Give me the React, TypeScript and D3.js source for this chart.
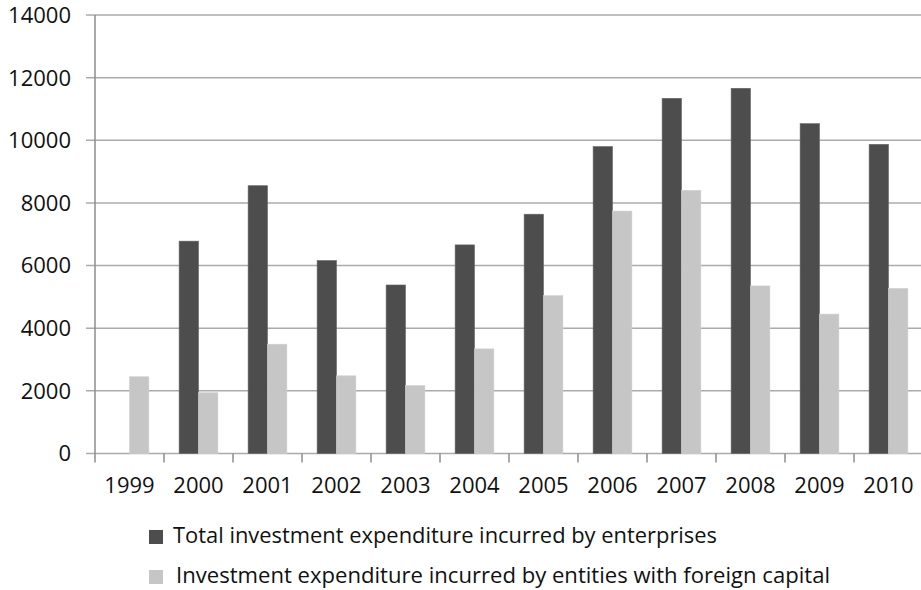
import React from "react";
import * as d3 from "d3";

const years = ["1999", "2000", "2001", "2002", "2003", "2004", "2005", "2006", "2007", "2008", "2009", "2010"];
const totalInvestment = [null, 6780, 8550, 6160, 5380, 6660, 7640, 9800, 11340, 11660, 10530, 9870];
const foreignInvestment = [2450, 1940, 3490, 2480, 2170, 3340, 5040, 7740, 8400, 5350, 4450, 5270];
const seriesNames = [
  "Total investment expenditure incurred by enterprises",
  "Investment expenditure incurred by entities with foreign capital",
];
const yTicks = [0, 2000, 4000, 6000, 8000, 10000, 12000, 14000];

const W = 921;
const H = 590;
const colors = ["#4d4d4d", "#c6c6c6"];
const font = "'Open Sans', 'Noto Sans', sans-serif";

export default function App() {
  const x = d3.scaleBand<string>().domain(years).range([95, 95 + 12 * 69]).paddingInner(0).paddingOuter(0);
  const sub = d3.scaleBand<string>().domain(["a", "b"]).range([0, x.bandwidth()]).paddingInner(0).paddingOuter(0.78);
  const y = d3.scaleLinear().domain([0, 14000]).range([453.5, 15]);
  const series = [totalInvestment, foreignInvestment];
  const keys = ["a", "b"];

  return (
    <svg width={W} height={H} style={{ position: "fixed", left: 0, top: 0, background: "#fff" }} fontFamily={font}>
      <rect x={0} y={0} width={W} height={H} fill="#fff" />
      {yTicks.map((t) => (
        <g key={t}>
          <line x1={86} x2={W} y1={y(t)} y2={y(t)} stroke="#ababab" strokeWidth={1.5} />
          <text x={71} y={y(t)} dy="0.36em" textAnchor="end" fontSize={22} fill="#111">
            {t}
          </text>
        </g>
      ))}
      <line x1={95} x2={95} y1={y(14000)} y2={y(0) + 9} stroke="#8c8c8c" strokeWidth={1.5} />
      {years.map((yr) => (
        <line key={"t" + yr} x1={(x(yr) as number) + x.bandwidth()} x2={(x(yr) as number) + x.bandwidth()} y1={y(0)} y2={y(0) + 9} stroke="#8c8c8c" strokeWidth={1.5} />
      ))}
      {series.map((vals, si) =>
        vals.map((v, i) =>
          v == null ? null : (
            <rect
              key={si + "-" + i}
              x={(x(years[i]) as number) + (sub(keys[si]) as number)}
              y={y(v)}
              width={sub.bandwidth()}
              height={y(0) - y(v)}
              fill={colors[si]}
              stroke={si === 0 ? "#666" : "#d0d0d0"}
              strokeWidth={0.6}
            />
          )
        )
      )}
      {years.map((yr) => (
        <text key={"l" + yr} x={(x(yr) as number) + x.bandwidth() / 2} y={493} textAnchor="middle" fontSize={22} fill="#111">
          {yr}
        </text>
      ))}
      <rect x={149} y={530} width={14} height={14} fill={colors[0]} />
      <text x={173} y={543} fontSize={21} fill="#111" textLength={544} lengthAdjust="spacingAndGlyphs">
        {seriesNames[0]}
      </text>
      <rect x={149} y={570} width={14} height={14} fill={colors[1]} />
      <text x={176} y={583} fontSize={21} fill="#111" textLength={654} lengthAdjust="spacingAndGlyphs">
        {seriesNames[1]}
      </text>
    </svg>
  );
}
